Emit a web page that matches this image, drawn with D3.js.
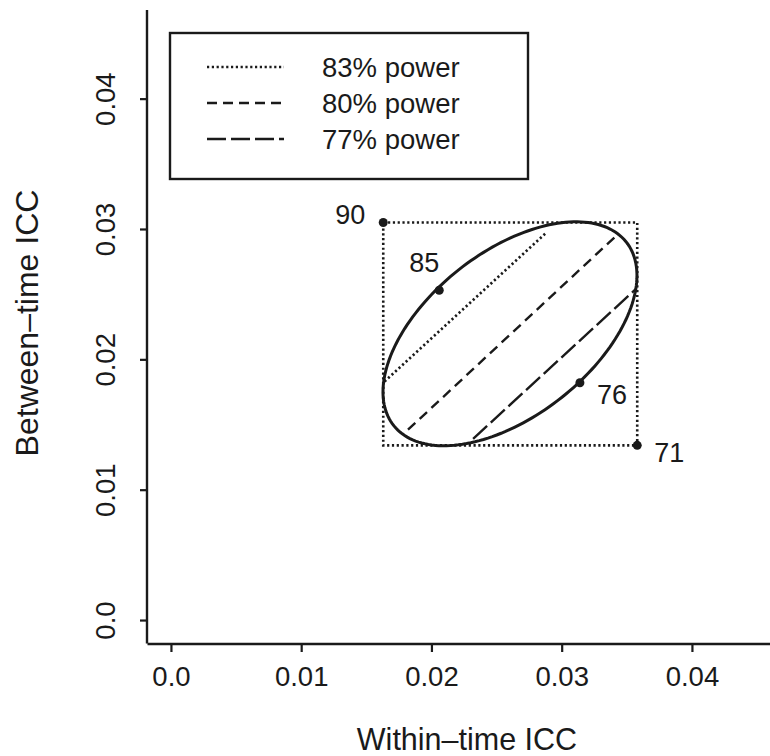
<!DOCTYPE html>
<html>
<head>
<meta charset="utf-8">
<script src="https://cdn.jsdelivr.net/npm/d3@7"></script>
<style>
  body { margin: 0; background: #fff; }
  text { font-family: "Liberation Sans", Arial, Helvetica, sans-serif; fill: #1a1a1a; }
</style>
</head>
<body>
<svg id="chart" width="770" height="756"></svg>
<script>
"use strict";

// axis ticks (both axes share them)
var xTicks = [0, 0.01, 0.02, 0.03, 0.04];
var yTicks = [0, 0.01, 0.02, 0.03, 0.04];
var tickLabels = ["0.0", "0.01", "0.02", "0.03", "0.04"];
var axisLimits = [0, 0.045];

// labelled points: [within-time ICC, between-time ICC]
var pointLabels = ["90", "85", "76", "71"];
var pointValues = [[0.0163, 0.0305], [0.0206, 0.0253], [0.0314, 0.0182], [0.0358, 0.0134]];

// dotted bounding box: lower-left and upper-right corners
var boxCorners = [[0.0163, 0.0134], [0.0358, 0.0305]];

// ellipse: centre, half-widths and correlation
var ellipseCenter = [0.02603, 0.02196];
var ellipseHalf = [0.00975, 0.00859];
var ellipseRho = 0.52;

// power contours
var powerNames = ["83% power", "80% power", "77% power"];
var powerLines = [
  [[0.0164, 0.0183], [0.0288, 0.0297]],
  [[0.0182, 0.0146], [0.0341, 0.0294]],
  [[0.0232, 0.0139], [0.0357, 0.0254]]
];

var dashes = ["2.2,2.6", "10,6", "19,5"];

var svg = d3.select("#chart");

// R style 4% padding around the limits
var pad = (axisLimits[1] - axisLimits[0]) * 0.04;
var x = d3.scaleLinear()
  .domain([axisLimits[0] - pad, axisLimits[1] + pad])
  .range([147.5, 780.5]);
var y = d3.scaleLinear()
  .domain([axisLimits[0] - pad, axisLimits[1] + pad])
  .range([643.5, 10]);

// x axis
var xAxis = svg.append("g")
  .attr("transform", "translate(0,644)")
  .call(d3.axisBottom(x).tickValues(xTicks).tickSize(8).tickPadding(14)
    .tickFormat(function (d, i) { return tickLabels[i]; }));
xAxis.select(".domain").remove();
xAxis.selectAll("line").attr("stroke", "#1a1a1a").attr("stroke-width", 2.2);
xAxis.selectAll("text").attr("font-size", 27.5).attr("fill", "#1a1a1a");

svg.append("line")
  .attr("x1", x.range()[0]).attr("x2", x.range()[1])
  .attr("y1", 644).attr("y2", 644)
  .attr("stroke", "#1a1a1a").attr("stroke-width", 2.4);

// y axis with rotated labels
var yAxis = svg.append("g")
  .attr("transform", "translate(147,0)")
  .call(d3.axisLeft(y).tickValues(yTicks).tickSize(7)
    .tickFormat(function (d, i) { return tickLabels[i]; }));
yAxis.select(".domain").remove();
yAxis.selectAll("line").attr("stroke", "#1a1a1a").attr("stroke-width", 2.2);
yAxis.selectAll("text")
  .attr("font-size", 27.5).attr("fill", "#1a1a1a")
  .attr("x", 0).attr("dy", null)
  .attr("text-anchor", "middle")
  .attr("transform", "translate(-32,0) rotate(-90)");

svg.append("line")
  .attr("x1", 147).attr("x2", 147)
  .attr("y1", y.range()[0]).attr("y2", y.range()[1])
  .attr("stroke", "#1a1a1a").attr("stroke-width", 2.4);

// axis titles
svg.append("text")
  .attr("x", 467).attr("y", 750)
  .attr("text-anchor", "middle").attr("font-size", 30.5)
  .text("Within\u2013time ICC");

svg.append("text")
  .attr("transform", "translate(38,323) rotate(-90)")
  .attr("text-anchor", "middle").attr("font-size", 32)
  .text("Between\u2013time ICC");

// dotted box
svg.append("rect")
  .attr("x", x(boxCorners[0][0]))
  .attr("y", y(boxCorners[1][1]))
  .attr("width", x(boxCorners[1][0]) - x(boxCorners[0][0]))
  .attr("height", y(boxCorners[0][1]) - y(boxCorners[1][1]))
  .attr("fill", "none").attr("stroke", "#1a1a1a")
  .attr("stroke-width", 2.6).attr("stroke-dasharray", dashes[0]);

// ellipse
var delta = Math.acos(ellipseRho);
var ellipsePts = d3.range(0, 361, 2).map(function (deg) {
  var t = deg * Math.PI / 180;
  return [ellipseCenter[0] + ellipseHalf[0] * Math.cos(t),
          ellipseCenter[1] + ellipseHalf[1] * Math.cos(t - delta)];
});
var line = d3.line()
  .x(function (d) { return x(d[0]); })
  .y(function (d) { return y(d[1]); });

svg.append("path")
  .attr("d", line(ellipsePts) + "Z")
  .attr("fill", "none").attr("stroke", "#1a1a1a").attr("stroke-width", 3);

// power lines
svg.selectAll(".power").data(powerLines).enter().append("path")
  .attr("class", "power")
  .attr("d", line)
  .attr("fill", "none").attr("stroke", "#1a1a1a")
  .attr("stroke-width", function (d, i) { return i === 0 ? 2.6 : 2.4; })
  .attr("stroke-dasharray", function (d, i) { return dashes[i]; });

// points and their labels
var offsets = [[-33, -8], [-15, -28], [32, 12], [32, 7]];
svg.selectAll(".pt").data(pointValues).enter().append("circle")
  .attr("class", "pt")
  .attr("cx", function (d) { return x(d[0]); })
  .attr("cy", function (d) { return y(d[1]); })
  .attr("r", 4.5).attr("fill", "#1a1a1a");

svg.selectAll(".ptlab").data(pointValues).enter().append("text")
  .attr("class", "ptlab")
  .attr("x", function (d, i) { return x(d[0]) + offsets[i][0]; })
  .attr("y", function (d, i) { return y(d[1]) + offsets[i][1]; })
  .attr("dy", "0.35em")
  .attr("text-anchor", "middle").attr("font-size", 27)
  .text(function (d, i) { return pointLabels[i]; });

// legend
var legend = svg.append("g");
legend.append("rect")
  .attr("x", 170).attr("y", 33).attr("width", 358).attr("height", 146)
  .attr("fill", "#fff").attr("stroke", "#1a1a1a").attr("stroke-width", 2.4);

var items = legend.selectAll(".item").data(powerNames).enter().append("g")
  .attr("transform", function (d, i) { return "translate(0," + (67 + i * 36) + ")"; });
items.append("line")
  .attr("x1", 207).attr("x2", 284)
  .attr("stroke", "#1a1a1a")
  .attr("stroke-width", function (d, i) { return i === 0 ? 2.6 : 2.4; })
  .attr("stroke-dasharray", function (d, i) { return dashes[i]; });
items.append("text")
  .attr("x", 322).attr("dy", "0.35em")
  .attr("font-size", 27.5)
  .text(function (d) { return d; });
</script>
</body>
</html>
